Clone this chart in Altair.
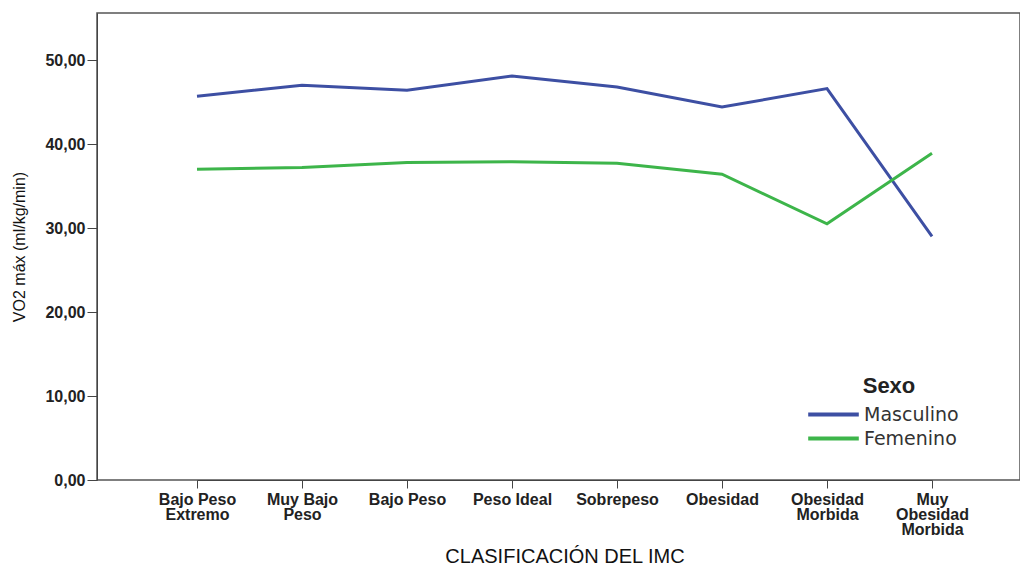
import altair as alt
import pandas as pd

# BMI categories in display order ("|" marks a line break in the axis label)
categorias = [
    "Bajo Peso|Extremo",
    "Muy Bajo|Peso",
    "Bajo Peso",
    "Peso Ideal",
    "Sobrepeso",
    "Obesidad",
    "Obesidad|Morbida",
    "Muy|Obesidad|Morbida",
]

# Mean VO2 max (ml/kg/min) by sex
masculino = [45.7, 47.0, 46.4, 48.1, 46.8, 44.4, 46.6, 29.0]
femenino = [37.0, 37.2, 37.8, 37.9, 37.7, 36.4, 30.5, 38.9]

sexos = ["Masculino", "Femenino"]
colores = ["#3d4fa3", "#3db54a"]

rows = []
for cat, m, f in zip(categorias, masculino, femenino):
    rows.append({"imc": cat, "sexo": "Masculino", "vo2": m})
    rows.append({"imc": cat, "sexo": "Femenino", "vo2": f})
df = pd.DataFrame(rows)

W, H = 923, 467

chart = (
    alt.Chart(df)
    .mark_line(strokeWidth=3)
    .encode(
        x=alt.X(
            "imc:N",
            sort=categorias,
            scale=alt.Scale(type="point", range=[100, 835], padding=0),
            axis=alt.Axis(
                title="CLASIFICACIÓN DEL IMC",
                labelAngle=0,
                labelExpr="split(datum.value, '|')",
                labelFontSize=16,
                labelFontWeight="bold",
                labelLineHeight=15,
                labelPadding=3,
                tickSize=8,
                titleFontSize=20,
                titleFontWeight="normal",
                titlePadding=9,
            ),
        ),
        y=alt.Y(
            "vo2:Q",
            scale=alt.Scale(domain=[0, 55.6], nice=False, zero=True),
            axis=alt.Axis(
                title="VO2 máx (ml/kg/min)",
                values=[0, 10, 20, 30, 40, 50],
                labelExpr="replace(format(datum.value, '.2f'), '.', ',')",
                labelFontSize=16,
                labelFontWeight="bold",
                labelPadding=2,
                tickSize=10,
                titleFontSize=16,
                titleFontWeight="normal",
                titlePadding=17,
            ),
        ),
        color=alt.Color(
            "sexo:N",
            sort=sexos,
            scale=alt.Scale(domain=sexos, range=colores),
            legend=alt.Legend(
                title="Sexo",
                orient="none",
                legendX=723,
                legendY=363,
                titleFontSize=22,
                titleFontWeight="bold",
                titleAnchor="middle",
                titlePadding=3,
                labelFontSize=19,
                labelFont="DejaVu Sans",
                # wide flat path keeps the row height small while the swatch stays long
                symbolType="M-2.2,0H2.2",
                symbolSize=529,
                symbolStrokeWidth=4,
                rowPadding=0,
                labelOffset=17,
            ),
        ),
        detail="sexo:N",
    )
    .properties(
        width=W,
        height=H,
        autosize=alt.AutoSizeParams(type="none"),
        padding={"left": 97, "top": 13, "right": 0, "bottom": 87},
    )
    .configure(font="Liberation Sans", background="white")
    .configure_view(stroke="#555555", strokeWidth=1.5)
    .configure_axis(
        grid=False,
        domainColor="#444444",
        tickColor="#444444",
        labelColor="#222222",
        titleColor="#111111",
        labelFont="Liberation Sans",
        titleFont="Liberation Sans",
    )
    .configure_legend(labelColor="#333333", titleColor="#222222")
)

chart.save("out.html", embed_options={"renderer": "svg", "actions": False})
